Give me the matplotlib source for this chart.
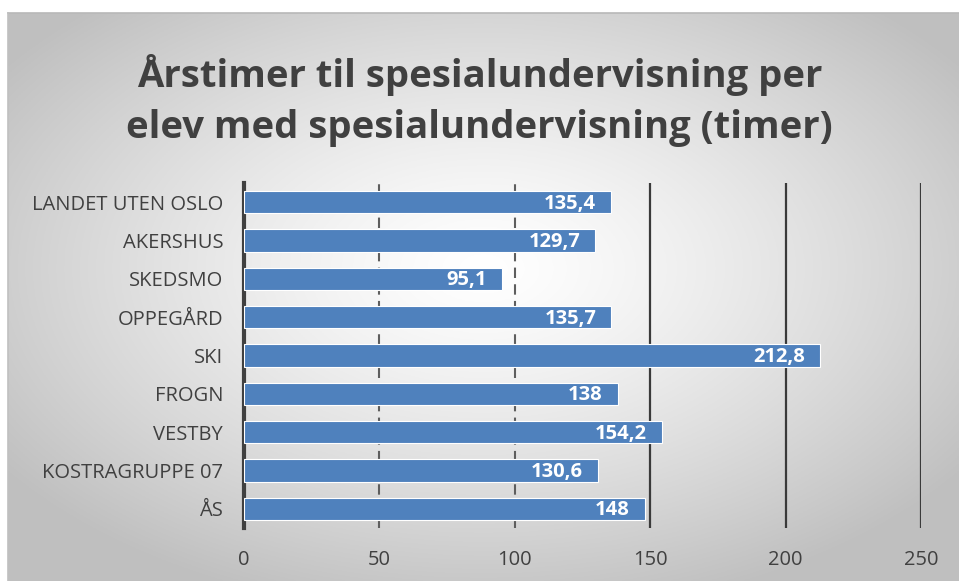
import matplotlib
matplotlib.use("Agg")
import matplotlib.pyplot as plt
import numpy as np

categories = ["LANDET UTEN OSLO", "AKERSHUS", "SKEDSMO", "OPPEGÅRD", "SKI",
              "FROGN", "VESTBY", "KOSTRAGRUPPE 07", "ÅS"]
values = [135.4, 129.7, 95.1, 135.7, 212.8, 138, 154.2, 130.6, 148]
value_labels = ["135,4", "129,7", "95,1", "135,7", "212,8", "138", "154,2", "130,6", "148"]
x_ticks = [0, 50, 100, 150, 200, 250]

W, H = 959, 581
fig = plt.figure(figsize=(W / 100, H / 100), dpi=100)
fig.patch.set_facecolor("white")

# radial gradient panel behind the chart
bg = fig.add_axes([8 / W, 0, 1 - 8 / W, 1 - 13 / H], zorder=0)
yy, xx = np.mgrid[0:1:300j, 0:1:500j]
r = np.sqrt(((xx - 0.5) / 0.75) ** 2 + ((yy - 0.55) / 0.75) ** 2)
shade = np.clip(1.0 - 0.32 * r ** 1.3, 0.75, 1.0)
bg.imshow(np.dstack([shade] * 3), extent=[0, 1, 0, 1], aspect="auto", origin="lower")
bg.set_axis_off()
fig.add_artist(plt.Line2D([8 / W, 1], [1 - 13 / H] * 2, color="#b8b8b8", lw=1.2))
fig.add_artist(plt.Line2D([8 / W] * 2, [0, 1 - 13 / H], color="#c0c0c0", lw=1.2))

font = "Open Sans"
left, right = 244 / W, 921 / W
bottom, top = 1 - 528 / H, 1 - 183 / H
ax = fig.add_axes([left, bottom, right - left, top - bottom], zorder=1)
ax.patch.set_alpha(0)

y = np.arange(len(categories))
ax.barh(y, values, height=0.58, color="#4f81bd", edgecolor="white", linewidth=0.8, zorder=3)
ax.set_ylim(len(categories) - 0.5, -0.5)
ax.set_xlim(0, 250)

for v, lab, yi in zip(values, value_labels, y):
    ax.text(v - 5.5, yi + 0.04, lab, ha="right", va="center", color="white",
            fontsize=14.5, fontweight="bold", family=font, zorder=4)

for t in x_ticks[1:]:
    if t <= 100:
        ax.axvline(t, color="#5e5e5e", lw=1.5, ls=(0, (5, 3)), zorder=1)
    else:
        ax.axvline(t, color="#3a3a3a", lw=1.6, zorder=1)

for s in ["top", "right", "bottom"]:
    ax.spines[s].set_visible(False)
ax.spines["left"].set_color("#404040")
ax.spines["left"].set_linewidth(3)

ax.set_xticks(x_ticks)
ax.set_xticklabels([str(t) for t in x_ticks], family=font, fontsize=14.5, color="#404040")
ax.set_yticks(y)
ax.set_yticklabels(categories, family=font, fontsize=14.5, color="#404040")
ax.tick_params(axis="both", length=0)
ax.tick_params(axis="x", pad=16)
ax.tick_params(axis="y", pad=15)

fig.text(0.5, 1 - 75 / H, "Årstimer til spesialundervisning per", ha="center", va="center",
         fontsize=27.5, fontweight="bold", family=font, color="#404040")
fig.text(0.5, 1 - 128 / H, "elev med spesialundervisning (timer)", ha="center", va="center",
         fontsize=27.5, fontweight="bold", family=font, color="#404040")

fig.savefig("out.png", dpi=100)
